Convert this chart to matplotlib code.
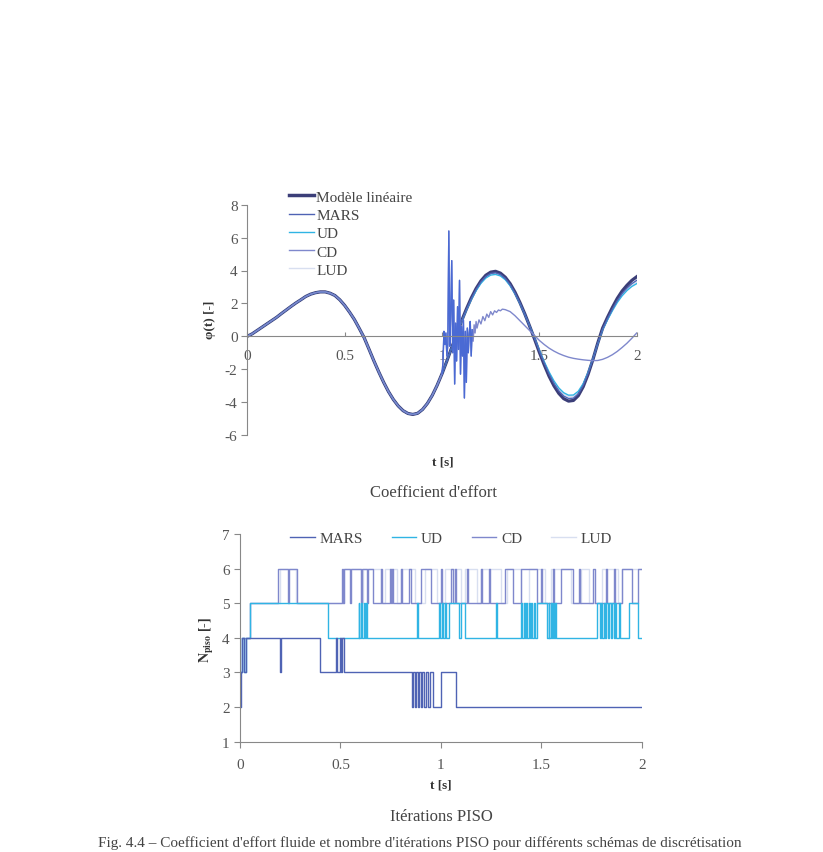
import numpy as np
import matplotlib
matplotlib.use("Agg")
import matplotlib.pyplot as plt

plt.rcParams['font.family'] = ['Liberation Serif', 'DejaVu Serif']
plt.rcParams['mathtext.fontset'] = 'stix'
plt.rcParams['axes.unicode_minus'] = False

# ---- coefficient d'effort, phi(t) ----
t_step = 0.025
# shared part (all schemes on top of the linear model up to t ~ 1.075)
phi_start = [0.00, 0.15, 0.35, 0.55, 0.75, 0.95, 1.15, 1.38, 1.60, 1.82,
             2.03, 2.22, 2.42, 2.56, 2.65, 2.70, 2.70, 2.62, 2.48, 2.22,
             1.88, 1.47, 1.02, 0.48, -0.08, -0.78, -1.49, -2.16, -2.79, -3.36,
             -3.84, -4.23, -4.52, -4.69, -4.75, -4.68, -4.45, -4.08, -3.59, -2.98,
             -2.28, -1.50, -0.68, 0.08]
model_tail = [0.92, 1.65, 2.32, 2.90, 3.37, 3.71, 3.90, 3.95, 3.84, 3.59,
              3.20, 2.68, 2.06, 1.37, 0.62, -0.16, -0.97, -1.73, -2.43, -3.01,
              -3.47, -3.79, -3.94, -3.90, -3.61, -3.07, -2.32, -1.42, -0.41, 0.50,
              1.15, 1.75, 2.30, 2.75, 3.10, 3.40, 3.62]
mars_tail = [0.90, 1.62, 2.28, 2.85, 3.31, 3.64, 3.82, 3.86, 3.76, 3.52,
             3.14, 2.63, 2.03, 1.35, 0.62, -0.12, -0.90, -1.63, -2.30, -2.87,
             -3.32, -3.63, -3.78, -3.76, -3.50, -2.99, -2.27, -1.40, -0.42, 0.45,
             1.08, 1.65, 2.17, 2.60, 2.93, 3.20, 3.40]
ud_tail = [0.88, 1.58, 2.22, 2.77, 3.22, 3.54, 3.72, 3.76, 3.67, 3.44,
           3.07, 2.58, 2.00, 1.34, 0.63, -0.09, -0.84, -1.54, -2.17, -2.71,
           -3.14, -3.43, -3.58, -3.57, -3.34, -2.88, -2.20, -1.38, -0.45, 0.40,
           1.00, 1.55, 2.05, 2.46, 2.78, 3.03, 3.20]
lud_tail = [0.90, 1.60, 2.25, 2.81, 3.27, 3.59, 3.78, 3.82, 3.72, 3.48,
            3.10, 2.60, 2.01, 1.35, 0.63, -0.10, -0.86, -1.58, -2.22, -2.78,
            -3.22, -3.52, -3.67, -3.66, -3.42, -2.93, -2.23, -1.39, -0.44, 0.42,
            1.03, 1.59, 2.10, 2.52, 2.84, 3.10, 3.30]
cd_tail_t = [1.005, 1.01, 1.015, 1.02, 1.025, 1.03, 1.035, 1.04, 1.045, 1.05,
             1.055, 1.06, 1.065, 1.07, 1.075, 1.08, 1.085, 1.09, 1.095, 1.10,
             1.105, 1.11, 1.115, 1.12, 1.125, 1.13, 1.135, 1.14, 1.145, 1.15,
             1.155, 1.16, 1.165, 1.17, 1.175, 1.18, 1.19, 1.20, 1.21, 1.22,
             1.23, 1.24, 1.25, 1.26, 1.27, 1.28, 1.29, 1.30, 1.31, 1.325,
             1.35, 1.375, 1.40, 1.425, 1.45, 1.475, 1.50, 1.525, 1.55, 1.575,
             1.60, 1.625, 1.65, 1.675, 1.70, 1.725, 1.75, 1.775, 1.80, 1.825,
             1.85, 1.875, 1.90, 1.925, 1.95, 1.975, 2.00]
cd_tail = [-1.60, 0.30, -0.50, 0.20, -1.20, -0.50, 6.40, -0.60, 1.50, 4.60,
           -1.00, 2.20, -2.90, 0.80, -1.50, 1.80, -0.80, 3.40, -2.30, 0.60,
           -1.20, 1.00, -3.75, 0.30, -2.80, 0.50, -1.00, 0.20, 0.90, -1.20,
           0.40, -0.30, 0.70, 0.20, 0.90, 0.50, 1.00, 0.75, 1.20, 0.95,
           1.35, 1.15, 1.50, 1.30, 1.55, 1.45, 1.60, 1.55, 1.65, 1.62,
           1.50, 1.25, 0.95, 0.65, 0.35, 0.05, -0.25, -0.50, -0.72, -0.90,
           -1.05, -1.17, -1.27, -1.34, -1.39, -1.43, -1.46, -1.48, -1.47, -1.40,
           -1.28, -1.12, -0.92, -0.68, -0.42, -0.12, 0.20]

# ---- iterations PISO (change points, step-post) ----
mars_t = [0.0, 0.003, 0.012, 0.018, 0.028, 0.198, 0.203, 0.398, 0.478, 0.484,
          0.497, 0.503, 0.51, 0.516, 0.855, 0.861, 0.869, 0.875, 0.884, 0.889,
          0.90, 0.906, 0.918, 0.924, 0.938, 0.944, 0.96, 1.0, 1.073, 2.0]
mars_n = [2, 3, 4, 3, 4, 3, 4, 3, 4, 3,
          4, 3, 4, 3, 2, 3, 2, 3, 2, 3,
          2, 3, 2, 3, 2, 3, 2, 3, 2, 2]
ud_t = [0.0, 0.01, 0.02, 0.03, 0.05, 0.44, 0.59, 0.594, 0.60, 0.606,
        0.615, 0.62, 0.627, 0.632, 0.88, 0.884, 0.99, 0.996, 1.005, 1.01,
        1.02, 1.026, 1.04, 1.09, 1.10, 1.12, 1.275, 1.279, 1.40, 1.406,
        1.413, 1.418, 1.425, 1.43, 1.437, 1.442, 1.45, 1.456, 1.465, 1.47,
        1.48, 1.53, 1.536, 1.54, 1.547, 1.552, 1.558, 1.563, 1.57, 1.575,
        1.775, 1.79, 1.797, 1.803, 1.81, 1.816, 1.824, 1.83, 1.838, 1.845,
        1.853, 1.86, 1.868, 1.874, 1.885, 1.89, 1.935, 1.98, 2.0]
ud_n = [3, 4, 3, 4, 5, 4, 5, 4, 5, 4,
        5, 4, 5, 4, 5, 4, 5, 4, 5, 4,
        5, 4, 5, 4, 5, 4, 5, 4, 5, 4,
        5, 4, 5, 4, 5, 4, 5, 4, 5, 4,
        5, 4, 5, 4, 5, 4, 5, 4, 5, 4,
        5, 4, 5, 4, 5, 4, 5, 4, 5, 4,
        5, 4, 5, 4, 5, 4, 5, 4, 4]
cd_t = [0.0, 0.008, 0.05, 0.19, 0.24, 0.245, 0.285, 0.51, 0.515, 0.52,
        0.55, 0.555, 0.60, 0.605, 0.63, 0.635, 0.66, 0.70, 0.705, 0.745,
        0.75, 0.755, 0.76, 0.80, 0.805, 0.84, 0.85, 0.90, 0.95, 1.0,
        1.005, 1.05, 1.06, 1.07, 1.075, 1.13, 1.135, 1.20, 1.205, 1.24,
        1.245, 1.32, 1.36, 1.40, 1.48, 1.50, 1.505, 1.56, 1.565, 1.60,
        1.66, 1.69, 1.695, 1.76, 1.765, 1.82, 1.825, 1.86, 1.865, 1.90,
        1.95, 1.98, 2.0]
cd_n = [3, 4, 5, 6, 5, 6, 5, 6, 5, 6,
        5, 6, 5, 6, 5, 6, 5, 6, 5, 6,
        5, 6, 5, 6, 5, 6, 5, 6, 5, 6,
        5, 6, 5, 6, 5, 6, 5, 6, 5, 6,
        5, 6, 5, 6, 5, 6, 5, 6, 5, 6,
        5, 6, 5, 6, 5, 6, 5, 6, 5, 6,
        5, 6, 6]
lud_t = [0.0, 0.05, 0.20, 0.28, 0.52, 0.60, 0.61, 0.70, 0.72, 0.78,
         0.80, 0.87, 0.92, 0.98, 1.02, 1.10, 1.12, 1.18, 1.20, 1.30,
         1.33, 1.40, 1.44, 1.52, 1.55, 1.65, 1.70, 1.74, 1.80, 1.88,
         1.90, 2.0]
lud_n = [4, 5, 6, 5, 6, 5, 6, 5, 6, 5,
         6, 5, 6, 5, 6, 5, 6, 5, 6, 5,
         6, 5, 6, 5, 6, 5, 6, 5, 6, 5,
         6, 6]

c_model = '#3b3e78'
c_mars = '#4f63b4'
c_ud = '#30b4e4'
c_cd = '#7f88cc'
c_lud = '#d8dff0'
grey = '#555555'

W, H = 823, 853
fig = plt.figure(figsize=(W / 100, H / 100), dpi=100)


def fx(px):
    return px / W


def fy(py):
    return 1 - py / H


# ----- top chart -----
n_start = len(phi_start)
t_phi = np.arange(n_start + len(model_tail)) * t_step
cd_t_all = list(t_phi[:41]) + cd_tail_t
cd_all = phi_start[:41] + cd_tail

ax1 = fig.add_axes([fx(247.3), fy(436), fx(636.7) - fx(247.3), fy(205.7) - fy(436)])
ax1.plot(t_phi, phi_start + lud_tail, color=c_lud, lw=1.0)
ax1.plot(t_phi, phi_start + model_tail, color=c_model, lw=2.3, label='Modèle linéaire')
ax1.plot(t_phi, phi_start + ud_tail, color=c_ud, lw=1.0)
ax1.plot(t_phi, phi_start + mars_tail, color=c_mars, lw=1.0)
ax1.plot(cd_t_all, cd_all, color=c_cd, lw=1.0)
ax1.plot(cd_t_all[40:72], cd_all[40:72], color='#4a6ad4', lw=1.0)

ax1.set_xlim(0, 2)
ax1.set_ylim(-6, 8)
ax1.set_yticks(range(-6, 9, 2))
ax1.set_xticks([0, 0.5, 1, 1.5, 2])
ax1.set_xticklabels(['0', '0.5', '1', '1.5', '2'])
for s in ['top', 'right']:
    ax1.spines[s].set_visible(False)
ax1.spines['bottom'].set_position(('data', 0))
for s in ['left', 'bottom']:
    ax1.spines[s].set_color('#888888')
ax1.tick_params(axis='x', direction='in', length=3, pad=9, colors='#888888',
                labelcolor=grey, labelsize=11)
ax1.tick_params(axis='y', direction='out', length=4, pad=3, colors='#888888',
                labelcolor=grey, labelsize=11)

h_top = [
    plt.Line2D([], [], color=c_model, lw=2.5),
    plt.Line2D([], [], color=c_mars, lw=1.0),
    plt.Line2D([], [], color=c_ud, lw=1.0),
    plt.Line2D([], [], color=c_cd, lw=1.0),
    plt.Line2D([], [], color=c_lud, lw=1.0),
]
fig.legend(h_top, ['Modèle linéaire', 'MARS', 'UD', 'CD', 'LUD'],
           loc='upper left', bbox_to_anchor=(fx(289), fy(191)), frameon=False,
           fontsize=11, handlelength=1.65, handletextpad=0.15, labelspacing=0.3,
           borderpad=0, borderaxespad=0, labelcolor='#444444')

fig.text(fx(210), fy(320), 'φ(t) [-]', rotation=90, ha='center', va='center',
         fontsize=9.5, fontweight='bold', color='#333333')
fig.text(fx(443), fy(463), 't [s]', ha='center', va='center', fontsize=9.5,
         fontweight='bold', color='#333333')
fig.text(fx(434), fy(493), "Coefficient d'effort", ha='center', va='center',
         fontsize=12, color='#444444')

# ----- bottom chart -----
ax2 = fig.add_axes([fx(240), fy(742.7), fx(641.7) - fx(240), fy(535) - fy(742.7)])
ax2.step(lud_t, lud_n, where='post', color=c_lud, lw=1.0)
ax2.step(cd_t, cd_n, where='post', color=c_cd, lw=1.0)
ax2.step(ud_t, ud_n, where='post', color=c_ud, lw=1.0)
ax2.step(mars_t, mars_n, where='post', color=c_mars, lw=1.0)
ax2.set_xlim(0, 2)
ax2.set_ylim(1, 7)
ax2.set_yticks(range(1, 8))
ax2.set_xticks([0, 0.5, 1, 1.5, 2])
ax2.set_xticklabels(['0', '0.5', '1', '1.5', '2'])
for s in ['top', 'right']:
    ax2.spines[s].set_visible(False)
for s in ['left', 'bottom']:
    ax2.spines[s].set_color('#888888')
ax2.tick_params(direction='out', length=4, colors='#888888', labelcolor=grey,
                labelsize=11)
ax2.tick_params(axis='x', pad=8)

h_bot = [
    plt.Line2D([], [], color=c_mars, lw=1.0),
    plt.Line2D([], [], color=c_ud, lw=1.0),
    plt.Line2D([], [], color=c_cd, lw=1.0),
    plt.Line2D([], [], color=c_lud, lw=1.0),
]
fig.legend(h_bot, ['MARS', 'UD', 'CD', 'LUD'], loc='center',
           bbox_to_anchor=(fx(451), fy(539)), ncol=4, frameon=False,
           fontsize=11, handlelength=1.6, handletextpad=0.3, columnspacing=1.9,
           borderpad=0, borderaxespad=0, labelcolor='#444444')

fig.text(fx(207), fy(640), r'$\mathbf{N_{piso}}$ [-]', rotation=90, ha='center',
         va='center', fontsize=10, fontweight='bold', color='#333333')
fig.text(fx(441), fy(786), 't [s]', ha='center', va='center', fontsize=9.5,
         fontweight='bold', color='#333333')
fig.text(fx(441), fy(817), 'Itérations PISO', ha='center', va='center',
         fontsize=12, color='#444444')
fig.text(fx(420), fy(843), "Fig. 4.4 – Coefficient d'effort fluide et nombre "
         "d'itérations PISO pour différents schémas de discrétisation",
         ha='center', va='center', fontsize=11, color='#444444')

fig.savefig('out.png', dpi=100)
